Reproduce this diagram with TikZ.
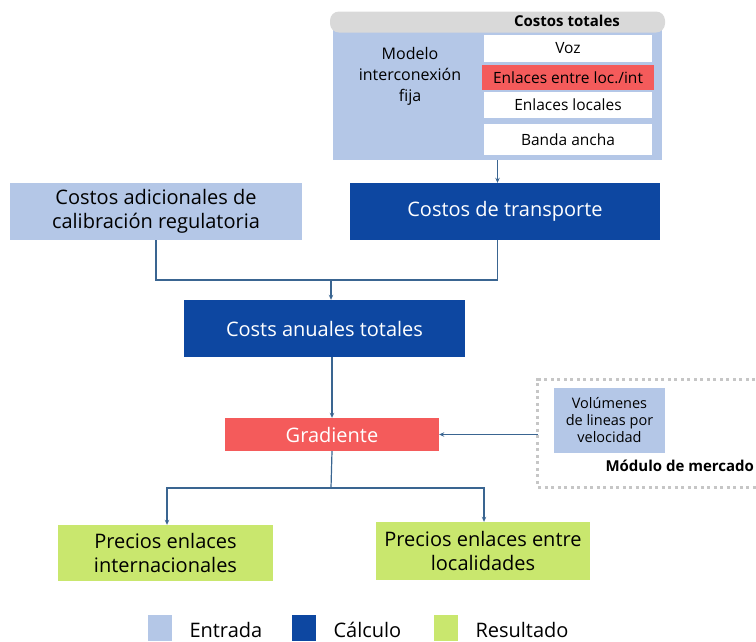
\documentclass[tikz,border=0pt]{standalone}
\usepackage{fontspec}
\setmainfont{Open Sans}
\usetikzlibrary{arrows.meta}
\definecolor{entrada}{HTML}{B4C7E7}
\definecolor{calculo}{HTML}{0D47A1}
\definecolor{resultado}{HTML}{C9E76E}
\definecolor{rojo}{HTML}{F45B5B}
\definecolor{linea}{HTML}{3A6591}
\definecolor{gris}{HTML}{D9D9D9}
\tikzset{
  box/.style={inner sep=0pt, align=center, font=\fontsize{20}{24}\selectfont},
  smallbox/.style={box, fill=white, minimum width=168pt, font=\fontsize{15.5}{18}\selectfont},
  conn/.style={draw=linea, line width=1.2pt},
  arr/.style={conn, -{Stealth[length=5pt,width=4.5pt]}},
}
\begin{document}
\begin{tikzpicture}[x=1pt,y=-1pt]
\useasboundingbox (0,0) rectangle (756,641);
% modelo de interconexion
\node[box, fill=entrada, minimum width=329pt, minimum height=130pt] (panel) at (497.5,95) {};
\node[fill=gris, rounded corners=9pt, minimum width=335pt, minimum height=21pt, inner sep=0pt] (hdr) at (497.5,22) {};
\node[font=\fontsize{15}{18}\selectfont\bfseries] (hdrtxt) at (567,21) {Costos totales};
\node[box, font=\fontsize{16}{21}\selectfont] (modelo) at (410,76) {Modelo\\interconexión\\fija};
\node[smallbox, minimum height=27pt] (voz) at (568,48) {Voz};
\node[smallbox, fill=rojo, minimum width=172pt, minimum height=25pt] (eloc) at (568,77.5) {Enlaces entre loc./int};
\node[smallbox, minimum height=26pt] (elocal) at (568,105) {Enlaces locales};
\node[smallbox, minimum height=31pt] (banda) at (568,139.5) {Banda ancha};
% costos
\node[box, fill=entrada, minimum width=292pt, minimum height=57pt] (adi) at (156,211.5) {Costos adicionales de\\calibración regulatoria};
\node[box, fill=calculo, text=white, minimum width=310pt, minimum height=57pt] (tra) at (505,211.5) {Costos de transporte};
\node[box, fill=calculo, text=white, minimum width=281pt, minimum height=57pt] (anu) at (324.5,328.5) {Costs anuales totales};
\node[box, fill=rojo, text=white, minimum width=214pt, minimum height=33pt] (gra) at (332,434.5) {Gradiente};
% modulo de mercado
\node[minimum width=230pt, minimum height=107pt, inner sep=0pt] (mod) at (653,433.5) {};
\draw[gray!45, line width=3pt, dash pattern=on 3pt off 3.5pt]
  (mod.north east) -- (mod.north west) -- (mod.south west) -- (mod.south east);
\node[box, fill=entrada, minimum width=111pt, minimum height=65pt, font=\fontsize{14.5}{17}\selectfont] (vol) at (609.5,420.5) {Volúmenes\\de lineas por\\velocidad};
\node[font=\fontsize{15}{18}\selectfont\bfseries, anchor=west] (modtxt) at (602,466) {Módulo de mercado};
% resultados
\node[box, fill=resultado, minimum width=215pt, minimum height=56pt] (pint) at (165.5,553) {Precios enlaces\\internacionales};
\node[box, fill=resultado, minimum width=214pt, minimum height=58pt] (ploc) at (483,551) {Precios enlaces entre\\localidades};
% conectores
\coordinate (j) at (331,280);
\coordinate (s) at (331,488);
\draw[arr] (panel.south) -- (panel.south |- tra.north);
\draw[conn] (adi.south) |- (j);
\draw[conn] (panel.south |- tra.south) |- (j);
\draw[arr] (j) -- (j |- anu.north);
\draw[arr] (gra.north |- anu.south) -- (gra.north);
\draw[arr] (mod.west |- gra.east) -- (gra.east);
\draw[conn] (gra.south) -- (s);
\draw[arr] (s) -| ([xshift=1.5pt]pint.north);
\draw[arr] (s) -| ([xshift=1pt]ploc.north);
% leyenda
\foreach \c/\x/\lab in {entrada/160/Entrada, calculo/304/Cálculo, resultado/446/Resultado}{
  \fill[\c] (\x-12,615) rectangle (\x+12,641);
  \node[font=\fontsize{20}{24}\selectfont, anchor=west] at (\x+26,630) {\lab};
}
\end{tikzpicture}
\end{document}
